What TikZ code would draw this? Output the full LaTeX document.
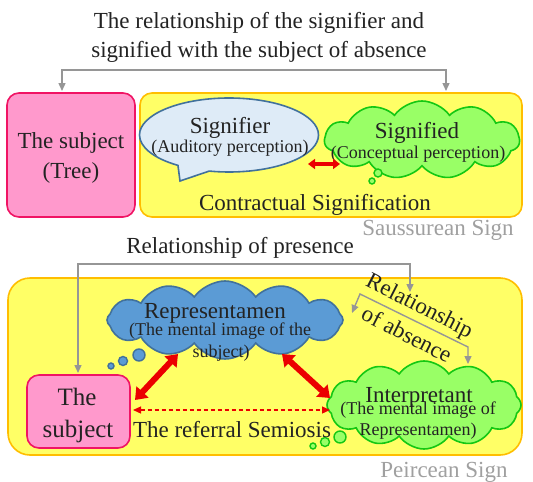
\documentclass[tikz,border=0pt]{standalone}
\usepackage{fontspec}
\setmainfont{Liberation Serif}
\usetikzlibrary{arrows.meta,shapes.symbols,shapes.callouts}
\definecolor{pinkfill}{RGB}{255,153,204}
\definecolor{pinkborder}{RGB}{240,20,100}
\definecolor{yelfill}{RGB}{255,255,102}
\definecolor{yelborder}{RGB}{255,190,0}
\definecolor{bubfill}{RGB}{222,235,247}
\definecolor{blueborder}{RGB}{65,113,156}
\definecolor{bluefill}{RGB}{91,155,213}
\definecolor{grnfill}{RGB}{153,255,102}
\definecolor{grnborder}{RGB}{20,200,20}
\definecolor{linkgray}{RGB}{150,150,150}
\definecolor{labelgray}{RGB}{160,160,160}
\definecolor{txtcol}{RGB}{35,35,35}
\definecolor{arrred}{RGB}{235,0,0}
\tikzset{
  txt/.style={anchor=base,inner sep=0pt,text=txtcol,font=\fontsize{23}{27}\selectfont},
  subtxt/.style={anchor=base,inner sep=0pt,text=txtcol,font=\fontsize{18}{21}\selectfont},
  pinkbox/.style={draw=pinkborder,fill=pinkfill,line width=1.6pt,rounded corners=12pt,inner sep=0pt},
  yelbox/.style={draw=yelborder,fill=yelfill,line width=1.6pt,inner sep=0pt},
  graylink/.style={draw=linkgray,line width=1.4pt,-{Triangle[length=8pt,width=7pt]}},
  redthick/.style={draw=arrred,line width=6pt,{Triangle[length=11pt,width=16pt]}-{Triangle[length=11pt,width=16pt]}},
  redthin/.style={draw=arrred,line width=3.5pt,{Triangle[length=7pt,width=10pt]}-{Triangle[length=7pt,width=10pt]}},
  reddash/.style={draw=arrred,line width=1.2pt,dash pattern=on 4pt off 3pt,{Triangle[length=8pt,width=7pt]}-{Triangle[length=8pt,width=7pt]}},
  cloudshape/.style={cloud,cloud ignores aspect,line width=1.6pt,inner sep=0pt},
  bubblegrn/.style={circle,draw=grnborder,fill=grnfill,line width=1.4pt,inner sep=0pt},
  bubbleblue/.style={circle,draw=blueborder,fill=bluefill,line width=1.4pt,inner sep=0pt}
}
\begin{document}
\begin{tikzpicture}[x=1pt,y=-1pt]
\useasboundingbox[fill=white] (0,0) rectangle (533,482);

% ---------- Saussurean part ----------
\node[txt] (title1) at (259,28) {The relationship of the signifier and};
\node[txt] (title2) at (259,57) {signified with the subject of absence};

\node[yelbox,rounded corners=12pt,minimum width=382,minimum height=124] (yel1) at (331,155) {};
\node[pinkbox,minimum width=128,minimum height=124] (subj1) at (71,155) {};
\node[txt] (subjA) at (71,148) {The subject};
\node[txt] (subjB) at (71,178) {(Tree)};

\node[ellipse callout,callout absolute pointer={(180,181)},callout pointer arc=22,
      draw=blueborder,fill=bubfill,line width=1.6pt,minimum width=179,minimum height=74,inner sep=0pt] (sfr) at (229,135) {};
\node[txt] (sfrA) at (230,133) {Signifier};
\node[subtxt] (sfrB) at (230,152) {(Auditory perception)};

\node[cloudshape,cloud puffs=11,cloud puff arc=110,draw=grnborder,fill=grnfill,minimum width=195,minimum height=78] (sfd) at (422,140) {};
\node[bubblegrn,minimum size=8] (sb1) at (378,173) {};
\node[bubblegrn,minimum size=6] (sb2) at (372,181) {};
\node[txt] (sfdA) at (417,138) {Signified};
\node[subtxt] (sfdB) at (418,158) {(Conceptual perception)};

\coordinate (ra) at (308,164);
\coordinate (rb) at (340,164);
\draw[redthin] (ra) -- (rb);

\node[txt] (contr) at (315,210) {Contractual Signification};
\node[txt,text=labelgray] (saus) at (438,235) {Saussurean Sign};

\coordinate (t1) at (62,91);
\coordinate (t2) at (446,91);
\draw[graylink,{Triangle[length=8pt,width=7pt]}-{Triangle[length=8pt,width=7pt]}] (t1) -- (62,70) -- (446,70) -- (t2);

% ---------- Peircean part ----------
\node[txt] (pres) at (240,253) {Relationship of presence};

\node[yelbox,rounded corners=22pt,minimum width=514,minimum height=177] (yel2) at (265,366.5) {};

\node[cloudshape,cloud puffs=12,cloud puff arc=110,draw=blueborder,fill=bluefill,minimum width=236,minimum height=78] (rep) at (225,320) {};
\node[bubbleblue,minimum size=12] (rb1) at (139,355) {};
\node[bubbleblue,minimum size=9] (rb2) at (123,361) {};
\node[bubbleblue,minimum size=6] (rb3) at (111,366) {};
\node[txt] (repA) at (215,318) {Representamen};
\node[subtxt] (repB) at (220,335) {(The mental image of the};
\node[subtxt] (repC) at (221,357) {subject)};

\node[pinkbox,minimum width=103,minimum height=73] (subj2) at (78.5,411.5) {};
\node[txt,font=\fontsize{25}{29}\selectfont] (subj2A) at (77,405) {The};
\node[txt,font=\fontsize{25}{29}\selectfont] (subj2B) at (78,437) {subject};

\node[cloudshape,cloud puffs=12,cloud puff arc=110,draw=grnborder,fill=grnfill,minimum width=194,minimum height=88] (int) at (424,405) {};
\node[bubblegrn,minimum size=12] (ib1) at (340,437) {};
\node[bubblegrn,minimum size=9] (ib2) at (325,442) {};
\node[bubblegrn,minimum size=6] (ib3) at (313,446) {};
\node[txt] (intA) at (419,402) {Interpretant};
\node[subtxt] (intB) at (418,414) {(The mental image of};
\node[subtxt] (intC) at (418,435) {Representamen)};

\node[txt] (refer) at (232,437) {The referral Semiosis};

\coordinate (la) at (135,400);
\coordinate (lb) at (178,354);
\coordinate (lc) at (282,354);
\coordinate (ld) at (330,398);
\draw[redthick] (la) -- (lb);
\draw[redthick] (lc) -- (ld);
\coordinate (da) at (133,410);
\coordinate (db) at (330,410);
\draw[reddash] (da) -- (db);

\coordinate (p1) at (78,373);
\coordinate (p2) at (410,292);
\draw[graylink,{Triangle[length=8pt,width=7pt]}-{Triangle[length=8pt,width=7pt]}] (p1) -- (78,264) -- (410,264) -- (p2);

\coordinate (ab1) at (352,313);
\coordinate (ab2) at (468,364);
\draw[graylink,{Triangle[length=8pt,width=7pt]}-{Triangle[length=8pt,width=7pt]}] (ab1) -- (360,294) -- (468,347) -- (ab2);
\node[txt,anchor=center,rotate=-27] (absA) at (419,307) {Relationship};
\node[txt,anchor=center,rotate=-27] (absB) at (407,334) {of absence};

\node[txt,text=labelgray] (peir) at (444,477) {Peircean Sign};
\end{tikzpicture}
\end{document}
